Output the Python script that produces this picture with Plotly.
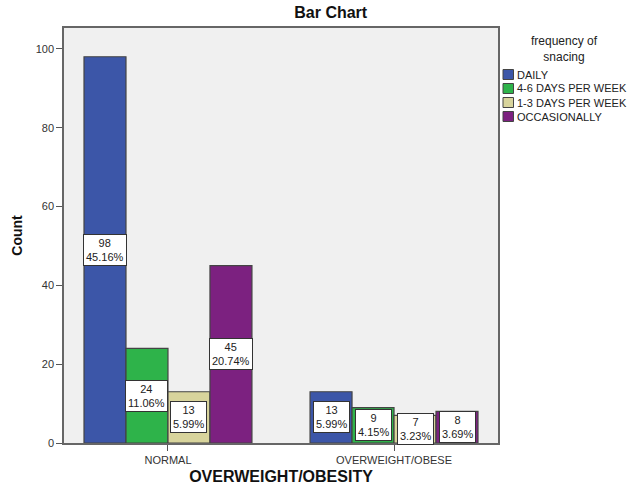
import plotly.graph_objects as go

categories = ["NORMAL", "OVERWEIGHT/OBESE"]
series_names = ["DAILY", "4-6 DAYS PER WEEK", "1-3 DAYS PER WEEK", "OCCASIONALLY"]
counts = [
    [98, 13],
    [24, 9],
    [13, 7],
    [45, 8],
]
percents = [
    ["45.16%", "5.99%"],
    ["11.06%", "4.15%"],
    ["5.99%", "3.23%"],
    ["20.74%", "3.69%"],
]
colors = ["#3C56A8", "#2EB34A", "#D8D49C", "#7C2180"]

FONT = "Liberation Sans, Arial, sans-serif"
BARGAP = 0.257
n = len(series_names)
xs = list(range(len(categories)))

W, H = 636, 490
ML, MR, MT, MB = 64, 138, 28, 47
PW, PH = W - ML - MR, H - MT - MB


def px_x(px):
    return (px - ML) / PW


def px_y(py):
    return (H - MB - py) / PH


fig = go.Figure()
for i, name in enumerate(series_names):
    fig.add_trace(go.Bar(
        x=xs, y=counts[i], name=name,
        marker=dict(color=colors[i], line=dict(color="#444444", width=1.2)),
        showlegend=False,
    ))

annotations = []
group_w = 1 - BARGAP
for i in range(n):
    for j, c in enumerate(xs):
        xc = c - group_w / 2 + (i + 0.5) * group_w / n
        annotations.append(dict(
            x=xc, y=counts[i][j] / 2, xref="x", yref="y",
            text=f"{counts[i][j]}<br>{percents[i][j]}",
            showarrow=False, bgcolor="white", bordercolor="#333333",
            borderwidth=1, borderpad=2,
            font=dict(family=FONT, size=11, color="#222222"),
            yanchor="middle", xanchor="center",
        ))

# legend (drawn manually for SPSS-like compact spacing)
annotations.append(dict(
    x=px_x(564), y=px_y(49), xref="paper", yref="paper",
    text="frequency of<br>snacing",
    showarrow=False, font=dict(family=FONT, size=12, color="#222222"),
    xanchor="center", yanchor="middle",
))
shapes = []
for i, name in enumerate(series_names):
    cy = 74.5 + 14 * i
    shapes.append(dict(
        type="rect", xref="paper", yref="paper",
        x0=px_x(503), x1=px_x(513.5),
        y0=px_y(cy - 5), y1=px_y(cy + 5),
        fillcolor=colors[i], line=dict(color="#444444", width=1),
    ))
    annotations.append(dict(
        x=px_x(515), y=px_y(cy),
        xref="paper", yref="paper", text=name, showarrow=False,
        font=dict(family=FONT, size=11, color="#222222"),
        xanchor="left", yanchor="middle",
    ))

fig.update_layout(
    width=W, height=H,
    margin=dict(l=ML, r=MR, t=MT, b=MB),
    paper_bgcolor="white", plot_bgcolor="#F0F0F0",
    barmode="group", bargap=BARGAP, bargroupgap=0,
    title=dict(text="<b>Bar Chart</b>", x=0.52, xanchor="center", y=0.975, yanchor="middle",
               font=dict(family=FONT, size=16, color="#111111")),
    font=dict(family=FONT, size=11, color="#333333"),
    showlegend=False,
    annotations=annotations,
    shapes=shapes,
)
fig.update_xaxes(
    automargin=False,
    range=[-0.46, 1.46], tickvals=xs, ticktext=categories,
    ticks="outside", ticklen=6, tickcolor="#555555",
    showline=True, linecolor="#666666", linewidth=1.5, mirror=True,
    showgrid=False, zeroline=False,
    tickfont=dict(family=FONT, size=11, color="#333333"),
    title=dict(text="<b>OVERWEIGHT/OBESITY</b>", standoff=6,
               font=dict(family=FONT, size=16, color="#111111")),
)
fig.update_yaxes(
    automargin=False,
    range=[0, 105.3], tickvals=[0, 20, 40, 60, 80, 100],
    ticks="outside", ticklen=6, tickcolor="#555555",
    showline=True, linecolor="#666666", linewidth=1.5, mirror=True,
    showgrid=False, zeroline=False,
    tickfont=dict(family=FONT, size=11, color="#333333"),
    title=dict(text="<b>Count</b>", standoff=10,
               font=dict(family=FONT, size=14, color="#111111")),
)

fig.write_html("out.html", config={"displayModeBar": False},
               post_script="document.body.style.margin='0';document.body.style.overflow='hidden';")
